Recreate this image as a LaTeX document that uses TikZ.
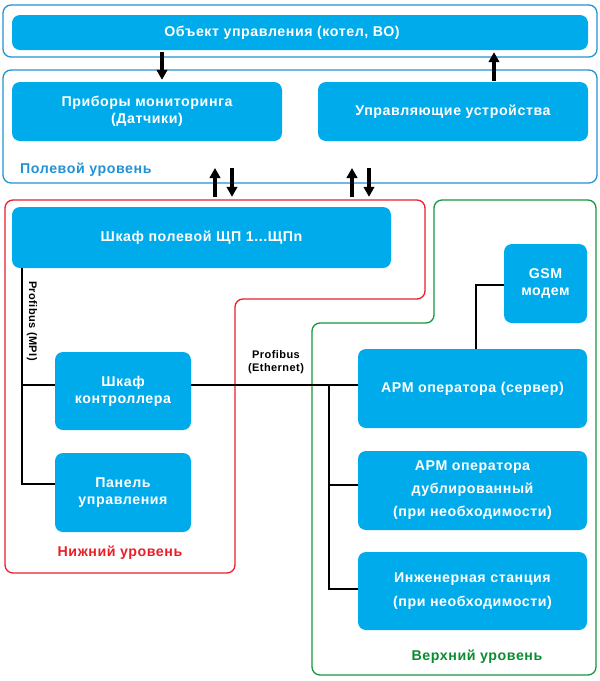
\documentclass[tikz,border=0pt]{standalone}
\usepackage{fontspec}
\setmainfont{Liberation Sans}[LetterSpace=4]
\usetikzlibrary{arrows.meta,calc}
\definecolor{bfill}{RGB}{0,171,236}
\definecolor{bline}{RGB}{34,146,214}
\definecolor{rline}{RGB}{232,30,40}
\definecolor{gline}{RGB}{20,150,60}
\definecolor{glabel}{RGB}{10,140,50}
\begin{document}
\begin{tikzpicture}[x=1pt,y=-1pt,
  bbox/.style={fill=bfill,draw=none,rounded corners=8pt,text=white,align=center,
    font=\fontsize{14.2}{17}\selectfont\bfseries,inner sep=0pt},
  outer/.style={draw=bline,line width=1.3pt,rounded corners=8pt,inner sep=0pt},
  conn/.style={draw=black,line width=1.2pt},
  bigarrow/.style={draw=black,line width=4.6pt,-{Triangle[length=10pt,width=10.5pt]}},
  lbl/.style={font=\fontsize{14.2}{16}\selectfont\bfseries,inner sep=0pt},
  small/.style={font=\fontsize{11}{13}\selectfont\bfseries,inner sep=0pt,align=center}]
\useasboundingbox (0,0) rectangle (600,681);
% outer boxes
\node[outer,minimum width=594pt,minimum height=52pt] (objOut) at (300,31) {};
\node[outer,minimum width=594pt,minimum height=113pt] (fieldOut) at (300,126.5) {};
% red and green regions
\draw[rline,line width=1.3pt,rounded corners=8pt] (5,200) -- (425,200) -- (425,299) -- (235,299) -- (235,573) -- (5,573) -- cycle;
\draw[gline,line width=1.3pt,rounded corners=8pt] (434,200) -- (596,200) -- (596,675) -- (312,675) -- (312,323) -- (434,323) -- cycle;
% blue boxes
\node[bbox,minimum width=576pt,minimum height=35pt] (obj) at (300,32.5) {\hspace*{-36pt}Объект управления (котел, ВО)};
\node[bbox,minimum width=270pt,minimum height=59pt] (mon) at (147,111.5) {Приборы мониторинга\\(Датчики)};
\node[bbox,minimum width=270pt,minimum height=59pt] (act) at (453,111.5) {Управляющие устройства};
\node[bbox,minimum width=379pt,minimum height=61pt] (shp) at (201.5,237.5) {Шкаф полевой ЩП 1...ЩПn};
\node[bbox,minimum width=136pt,minimum height=78pt] (ctl) at (123,391) {Шкаф\\контроллера};
\node[bbox,minimum width=136pt,minimum height=79pt] (pnl) at (123,492.5) {Панель\\управления};
\node[bbox,minimum width=83pt,minimum height=79pt] (gsm) at (545.5,283.5) {GSM\\модем};
\node[bbox,minimum width=229pt,minimum height=79pt] (srv) at (472.5,388.5) {АРМ оператора (сервер)};
\node[bbox,minimum width=229pt,minimum height=79pt,font=\fontsize{14.2}{23}\selectfont\bfseries] (dup) at (472.5,490.5) {АРМ оператора\\дублированный\\(при необходимости)};
\node[bbox,minimum width=229pt,minimum height=78pt,font=\fontsize{14.2}{24}\selectfont\bfseries] (eng) at (472.5,591) {Инженерная станция\\(при необходимости)};
% labels
\node[lbl,text=bline,anchor=west] (lf) at (20,170) {Полевой уровень};
\node[lbl,text=rline] (ll) at (120,553) {Нижний уровень};
\node[lbl,text=glabel] (lu) at (477,657) {Верхний уровень};
\node[small,rotate=-90] (mpi) at (32,321) {Profibus (MPI)};
\node[small] (eth) at (276,362) {Profibus\\(Ethernet)};
% connectors
\coordinate (m1) at (22,385);
\coordinate (m2) at (22,484);
\draw[conn] (shp.south -| m1) -- (m2) -- (m2 -| pnl.west);
\draw[conn] (m1) -- (m1 -| ctl.west);
\draw[conn] (m1 -| ctl.east) -- (m1 -| srv.west);
\coordinate (e1) at (329,385);
\coordinate (e2) at (329,485);
\coordinate (e3) at (329,589);
\draw[conn] (e1) -- (e3) -- (e3 -| eng.west);
\draw[conn] (e2) -- (e2 -| dup.west);
\coordinate (g1) at (476,285);
\draw[conn] (g1 -| gsm.west) -- (g1) -- (g1 |- srv.north);
% big arrows
\coordinate (a1) at (162,0);
\coordinate (a2) at (494,0);
\draw[bigarrow] ($(a1 |- obj.south)+(0,2)$) -- ($(a1 |- mon.north)+(0,-2)$);
\draw[bigarrow] ($(a2 |- act.north)+(0,-1)$) -- ($(a2 |- obj.south)+(0,2)$);
\coordinate (f1) at (215,168);
\coordinate (f2) at (232,168);
\coordinate (f3) at (352,168);
\coordinate (f4) at (369,168);
\draw[bigarrow] ($(f1 |- shp.north)+(0,-10)$) -- (f1);
\draw[bigarrow] (f2) -- ($(f2 |- shp.north)+(0,-10)$);
\draw[bigarrow] ($(f3 |- shp.north)+(0,-10)$) -- (f3);
\draw[bigarrow] (f4) -- ($(f4 |- shp.north)+(0,-10)$);
\end{tikzpicture}
\end{document}
